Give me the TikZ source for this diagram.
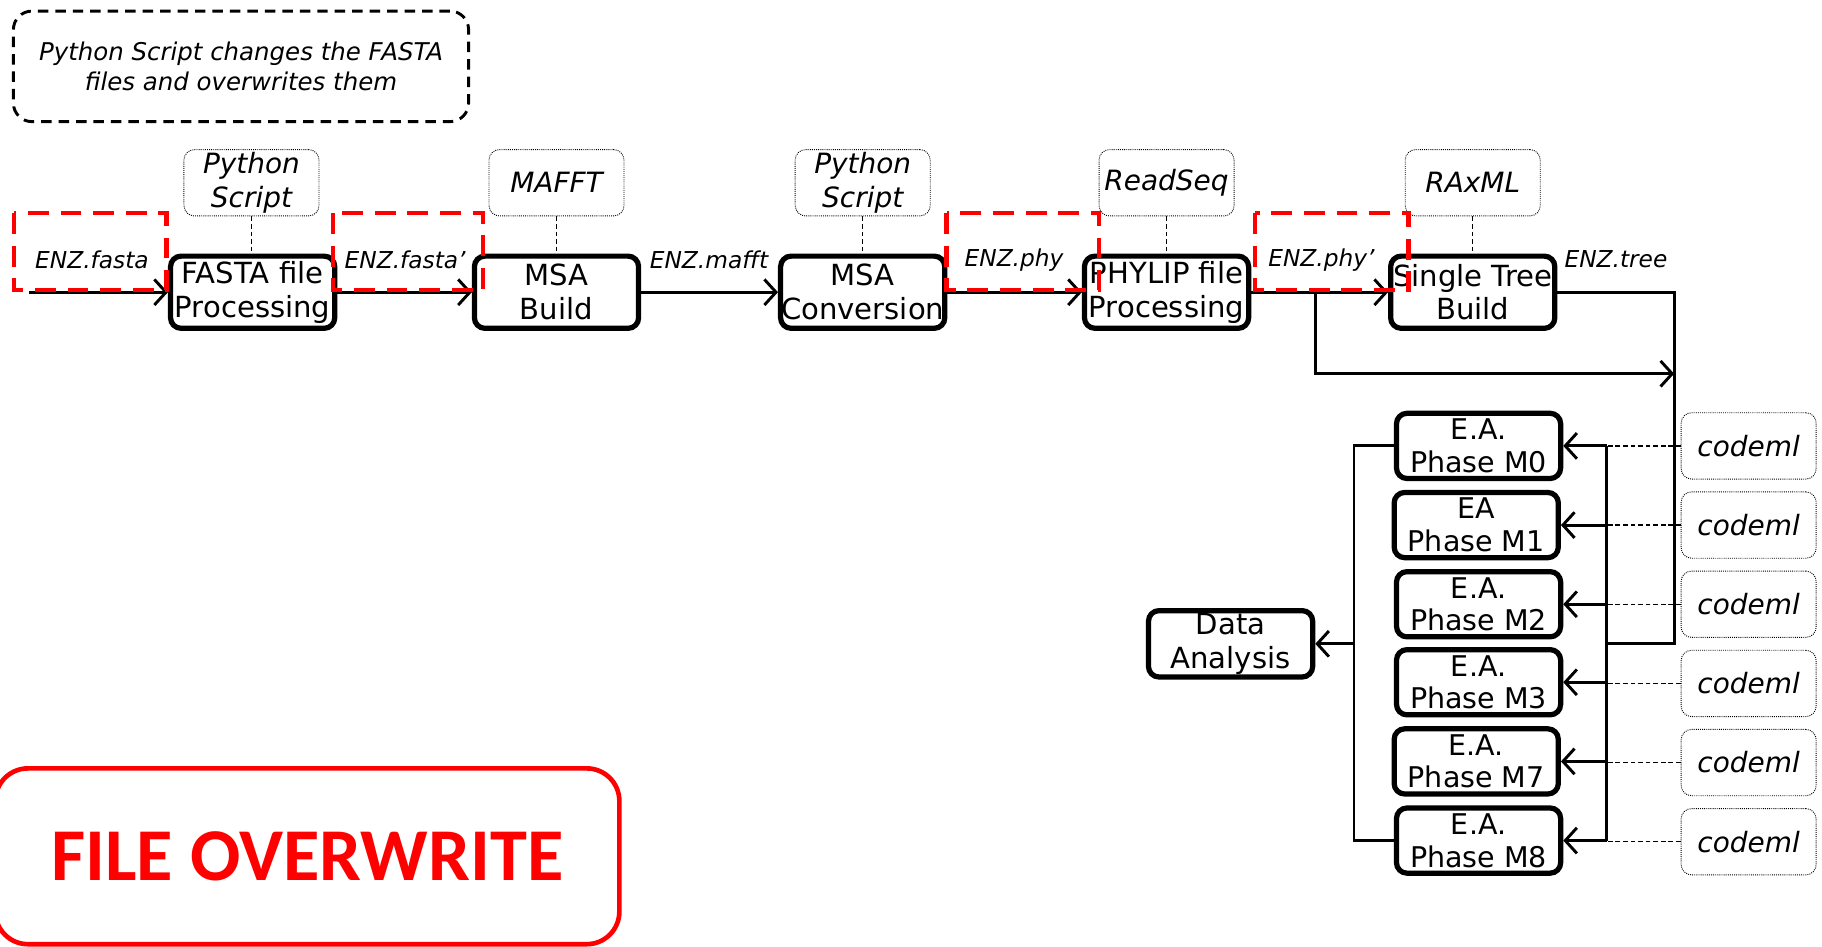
\documentclass[tikz,border=0pt]{standalone}
\usepackage{fontspec}
\setmainfont{DejaVu Sans}
\newfontfamily\bannerfont{Carlito}
\usetikzlibrary{arrows.meta}

\begin{document}
\begin{tikzpicture}[x=1pt, y=-1pt,
    >={Straight Barb[length=10pt, width=22pt]},
    stage/.style={draw, line width=4.5pt, rounded corners=9pt,
        minimum width=141pt, minimum height=62pt, inner sep=0pt,
        align=center, font=\fontsize{25}{29}\selectfont},
    phase/.style={stage, minimum height=56pt, font=\fontsize{24.5}{28}\selectfont},
    tool/.style={draw, densely dotted, line width=0.8pt, rounded corners=9pt,
        minimum width=116pt, minimum height=57pt, inner sep=0pt,
        align=center, font=\fontsize{24}{29}\selectfont\itshape},
    file/.style={inner sep=0pt, font=\fontsize{20}{24}\selectfont\itshape},
    flow/.style={->, line width=2.5pt},
    wire/.style={line width=2.5pt},
    tie/.style={line width=1.2pt, dash pattern=on 4pt off 2.5pt},
    overwrite/.style={red, line width=4pt, dash pattern=on 18pt off 10pt},
]
            % the frame
            \path[use as bounding box, clip] (0,0) rectangle (1565,813.4);

            % the note
            \node[draw, line width=2.5pt, dash pattern=on 9pt off 6pt, rounded corners=16pt,
                minimum width=391pt, minimum height=95pt, inner sep=0pt, align=center,
                font=\fontsize{21}{25}\selectfont\itshape] (note) at (207,57)
                {Python Script changes the FASTA\\files and overwrites them};

            % the stages
            \node[stage] (fasta) at (217,251) {FASTA file\\Processing};
            \node[stage] (msa) at (478,251) {MSA\\Build};
            \node[stage] (conv) at (741,251) {MSA\\Conversion};
            \node[stage] (phylip) at (1002,251) {PHYLIP file\\Processing};
            \node[stage] (tree) at (1265,251) {Single Tree\\Build};

            % the tools
            \node[tool] (py1) at (216,157) {Python\\Script};
            \node[tool] (mafft) at (478,157) {MAFFT};
            \node[tool] (py2) at (741,157) {Python\\Script};
            \node[tool] (readseq) at (1002,157) {ReadSeq};
            \node[tool] (raxml) at (1265,157) {RAxML};
            \draw[tie] (py1) -- (py1 |- fasta.north);
            \draw[tie] (mafft) -- (mafft |- msa.north);
            \draw[tie] (py2) -- (py2 |- conv.north);
            \draw[tie] (readseq) -- (readseq |- phylip.north);
            \draw[tie] (raxml) -- (raxml |- tree.north);

            % the main line
            \coordinate (start) at (25,251);
            \draw[flow] (start) -- (fasta);
            \draw[flow] (fasta) -- (msa);
            \draw[flow] (msa) -- (conv);
            \draw[flow] (conv) -- (phylip);
            \draw[flow] (phylip) -- (tree);

            % the files
            \node[file] (f1) at (79,223) {ENZ.fasta};
            \node[file] (f2) at (348,223) {ENZ.fasta’};
            \node[file] (f3) at (609,223) {ENZ.mafft};
            \node[file] (f4) at (871,223) {ENZ.phy};
            \node[file] (f5) at (1135,223) {ENZ.phy’};
            \node[file] (f6) at (1388,223) {ENZ.tree};

            % the overwritten files
            \draw[overwrite] (12,183) rectangle (143,249);
            \draw[overwrite] (286,183) rectangle (415,249);
            \draw[overwrite] (813,183) rectangle (944,249);
            \draw[overwrite] (1078,183) rectangle (1210,249);

            % the phases
            \node[phase] (m0) at (1270,383) {E.A.\\Phase M0};
            \node[phase] (m1) at (1268,451) {EA\\Phase M1};
            \node[phase] (m2) at (1270,519) {E.A.\\Phase M2};
            \node[phase] (m3) at (1270,586) {E.A.\\Phase M3};
            \node[phase] (m7) at (1268,654) {E.A.\\Phase M7};
            \node[phase] (m8) at (1270,722) {E.A.\\Phase M8};

            % the codeml runs
            \node[tool] (c0) at (1502,383) {codeml};
            \node[tool] (c1) at (1502,451) {codeml};
            \node[tool] (c2) at (1502,519) {codeml};
            \node[tool] (c3) at (1502,587) {codeml};
            \node[tool] (c7) at (1502,655) {codeml};
            \node[tool] (c8) at (1502,723) {codeml};

            % the tree and the alignment go down
            \coordinate (split) at (1130,251);
            \coordinate (splitlow) at (1130,321);
            \coordinate (corner) at (1438,251);
            \coordinate (join) at (1438,321);
            \coordinate (joinlow) at (1438,553);
            \coordinate (bustop) at (1380,383);
            \coordinate (busbottom) at (1380,722);
            \draw[wire] (tree) -- (corner) -- (joinlow) -- (bustop |- joinlow);
            \draw[flow] (split) -- (splitlow) -- (join);
            \draw[wire] (bustop) -- (busbottom);

            % the bus to the phases
            \draw[flow] (m0 -| bustop) -- (m0);
            \draw[flow] (m1 -| bustop) -- (m1);
            \draw[flow] (m2 -| bustop) -- (m2);
            \draw[flow] (m3 -| bustop) -- (m3);
            \draw[flow] (m7 -| bustop) -- (m7);
            \draw[flow] (m8 -| bustop) -- (m8);
            \draw[tie] (c0) -- (c0 -| bustop);
            \draw[tie] (c1) -- (c1 -| bustop);
            \draw[tie] (c2) -- (c2 -| bustop);
            \draw[tie] (c3) -- (c3 -| bustop);
            \draw[tie] (c7) -- (c7 -| bustop);
            \draw[tie] (c8) -- (c8 -| bustop);

            % the analysis
            \node[stage, minimum height=57pt] (data) at (1057,553) {Data\\Analysis};
            \coordinate (gather) at (1163,383);
            \draw[wire] (m0) -- (gather) -- (gather |- m8) -- (m8);
            \draw[flow] (data -| gather) -- (data);

            % the banner
            \node[draw=red, line width=4pt, rounded corners=28pt, minimum width=536pt,
                minimum height=151pt, inner sep=0pt, text=red,
                font=\bannerfont\bfseries\fontsize{64}{70}\selectfont] (banner) at (264,735.5)
                {FILE OVERWRITE};
\end{tikzpicture}
\end{document}
